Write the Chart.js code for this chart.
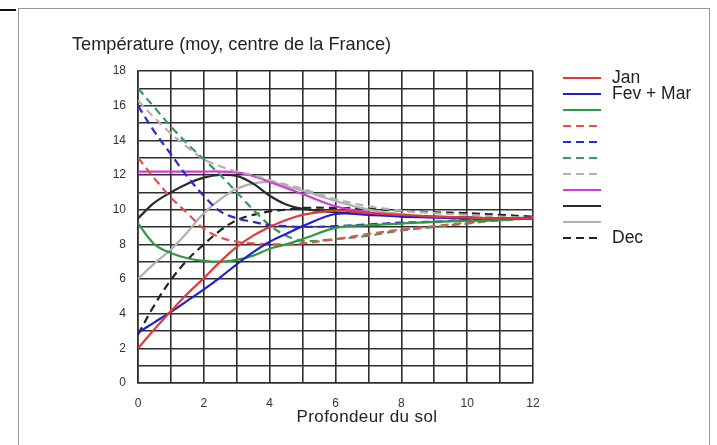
<!DOCTYPE html>
<html lang="fr">
<head>
    <meta charset="UTF-8">
    <title>Température du sol</title>
    <style>
        html, body { margin: 0; padding: 0; background: #fff; }
        #wrap { position: relative; width: 717px; height: 445px; overflow: hidden; }
        #frame { position: absolute; left: 18px; top: 8px; width: 690px; height: 450px; border: 1px solid #9a9a9a; }
        #corner { position: absolute; left: 0; top: 9px; width: 16px; height: 2px; background: #111; }
    </style>
</head>
<body>
<div id="wrap">
    <div id="frame"></div>
    <div id="corner"></div>
    <canvas id="myChart" width="717" height="445"></canvas>
</div>

<script src="https://cdn.jsdelivr.net/npm/chart.js"></script>

<script>
    // profondeur (abscisse) commune a toutes les courbes
    const depth = [0, 0.5, 1, 1.5, 2, 2.5, 3, 3.5, 4, 4.5, 5, 6, 7, 8, 9, 10, 11, 12];

    // temperatures
    const janSolid    = [2.0, 3.1, 4.15, 5.15, 6.05, 7.0, 7.85, 8.5, 9.0, 9.4, 9.7, 9.95, 9.8, 9.7, 9.6, 9.55, 9.5, 9.5];
    const blueSolid   = [2.9, 3.5, 4.1, 4.75, 5.4, 6.1, 6.85, 7.55, 8.15, 8.6, 9.05, 9.75, 9.7, 9.6, 9.55, 9.5, 9.5, 9.5];
    const greenSolid  = [9.2, 8.0, 7.5, 7.2, 7.05, 7.0, 7.1, 7.35, 7.75, 8.0, 8.3, 8.95, 9.1, 9.2, 9.3, 9.35, 9.4, 9.5];
    const redDash     = [13, 11.8, 10.7, 9.8, 8.9, 8.4, 8.15, 8.05, 8.0, 8.0, 8.05, 8.3, 8.6, 8.85, 9.05, 9.25, 9.4, 9.5];
    const blueDash    = [16, 14.5, 13.2, 11.9, 10.8, 9.9, 9.5, 9.3, 9.1, 9.05, 9.0, 9.05, 9.15, 9.25, 9.3, 9.4, 9.45, 9.5];
    const greenDash   = [17, 15.9, 14.8, 13.8, 12.9, 12.0, 11.0, 10.0, 9.1, 8.5, 8.2, 8.3, 8.5, 8.8, 9.0, 9.2, 9.4, 9.5];
    const greyDash    = [16.3, 15.3, 14.4, 13.6, 12.9, 12.5, 12.2, 12.0, 11.7, 11.45, 11.2, 10.6, 10.2, 9.95, 9.8, 9.7, 9.6, 9.5];
    const magenta     = [12.2, 12.2, 12.2, 12.2, 12.2, 12.2, 12.15, 11.95, 11.6, 11.25, 10.9, 10.2, 9.85, 9.65, 9.55, 9.5, 9.5, 9.55];
    const darkSolid   = [9.5, 10.4, 11.0, 11.5, 11.85, 12.0, 11.95, 11.5, 10.8, 10.3, 10.05, 9.85, 9.75, 9.65, 9.6, 9.55, 9.5, 9.5];
    const lightSolid  = [6.0, 6.9, 7.7, 8.7, 9.8, 10.6, 11.2, 11.5, 11.6, 11.35, 11.1, 10.5, 10.0, 9.75, 9.6, 9.55, 9.5, 9.5];
    const decDash     = [2.8, 4.5, 5.95, 7.1, 8.0, 8.8, 9.4, 9.7, 9.9, 10.0, 10.1, 10.1, 10.05, 9.95, 9.85, 9.8, 9.7, 9.6];

    const yTicks = [0, 2, 4, 6, 8, 10, 12, 14, 16, 18];
    const xTicks = [0, 2, 4, 6, 8, 10, 12];

    const FONT = "'Liberation Sans', Arial, sans-serif";
    const pts = arr => arr.map((v, i) => ({x: depth[i], y: v}));

    function serie(label, values, color, dash) {
        return {
            label: label,
            data: pts(values),
            borderColor: color,
            borderWidth: 2.2,
            borderDash: dash ? [8, 5] : [],
            pointRadius: 0,
            fill: false,
            tension: 0.35
        };
    }

    // titre, titre de l'axe x et legende a droite
    const deco = {
        id: 'deco',
        afterDraw(chart) {
            const c = chart.ctx;
            c.save();
            c.fillStyle = '#222';
            c.font = '18.2px ' + FONT;
            c.textBaseline = 'middle';
            c.textAlign = 'left';
            c.fillText('Température (moy, centre de la France)', 72, 45);

            c.font = '17px ' + FONT;
            c.letterSpacing = '0.4px';
            c.textAlign = 'center';
            c.fillText('Profondeur du sol', 367, 417);
            c.letterSpacing = '0px';

            c.textAlign = 'left';
            c.font = '17.5px ' + FONT;
            chart.data.datasets.forEach((ds, i) => {
                const y = 78 + i * 16;
                c.beginPath();
                c.strokeStyle = ds.borderColor;
                c.lineWidth = 2;
                c.setLineDash(ds.borderDash.length ? [8, 5] : []);
                c.moveTo(563, y);
                c.lineTo(601, y);
                c.stroke();
                if (ds.label) {
                    c.setLineDash([]);
                    c.fillStyle = '#222';
                    c.fillText(ds.label, 612, y);
                }
            });
            c.restore();
        }
    };

    const ctx = document.getElementById('myChart');

    new Chart(ctx, {
        type: 'line',
        data: {
            datasets: [
                serie('Jan', janSolid, '#e23a3a', false),
                serie('Fev + Mar', blueSolid, '#2020d0', false),
                serie('', greenSolid, '#2f9a45', false),
                serie('', redDash, '#e85050', true),
                serie('', blueDash, '#2a2ad0', true),
                serie('', greenDash, '#3a9a5e', true),
                serie('', greyDash, '#b8aeb0', true),
                serie('', magenta, '#d23ad6', false),
                serie('', darkSolid, '#2a2a2a', false),
                serie('', lightSolid, '#b0b0b0', false),
                serie('Dec', decDash, '#222222', true)
            ]
        },
        options: {
            responsive: false,
            animation: false,
            layout: {
                padding: { top: 71, right: 184, left: 0, bottom: 0 }
            },
            scales: {
                x: {
                    type: 'linear',
                    min: 0,
                    max: 12,
                    afterFit: s => { s.height = 62; },
                    afterBuildTicks: s => { s.ticks = Array.from({length: 13}, (_, i) => ({value: i})); },
                    ticks: {
                        autoSkip: false,
                        maxRotation: 0,
                        color: '#333',
                        padding: 13,
                        font: { family: FONT, size: 12 },
                        callback: v => xTicks.includes(v) ? String(v) : ''
                    },
                    grid: { color: '#2e2e2e', lineWidth: 1.6, drawTicks: false },
                    border: { color: '#2e2e2e', width: 1.6 }
                },
                y: {
                    min: 0,
                    max: 18,
                    afterFit: s => { s.width = 138; },
                    afterBuildTicks: s => { s.ticks = Array.from({length: 19}, (_, i) => ({value: i})); },
                    ticks: {
                        autoSkip: false,
                        color: '#333',
                        padding: 12,
                        font: { family: FONT, size: 12 },
                        callback: v => yTicks.includes(v) ? String(v) : ''
                    },
                    grid: { color: '#2e2e2e', lineWidth: 1.6, drawTicks: false },
                    border: { color: '#2e2e2e', width: 1.6 }
                }
            },
            plugins: {
                legend: { display: false },
                tooltip: { enabled: false }
            }
        },
        plugins: [deco]
    });
</script>
</body>
</html>
